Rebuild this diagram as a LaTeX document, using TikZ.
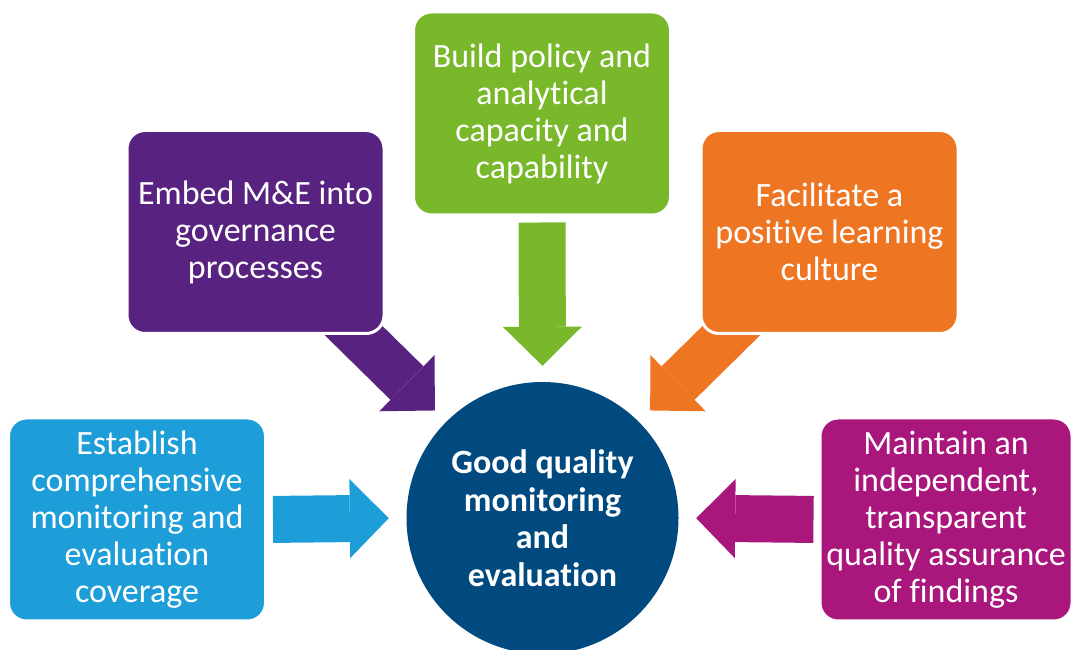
\documentclass[tikz,border=0pt]{standalone}
\usepackage{fontspec}
\setmainfont[Ligatures=NoCommon]{Carlito}
\usetikzlibrary{arrows.meta,backgrounds}

\definecolor{embpurple}{HTML}{582380}
\definecolor{buildgreen}{HTML}{78B82A}
\definecolor{facorange}{HTML}{EE7623}
\definecolor{estblue}{HTML}{1E9ED9}
\definecolor{maintpink}{HTML}{A9177D}
\definecolor{gooddark}{HTML}{004A7F}

\tikzset{
  box/.style={rectangle, rounded corners=18pt, draw=white, line width=3pt,
    minimum width=257pt, minimum height=203pt, inner sep=0pt, text=white,
    align=center, font=\fontsize{34}{37}\selectfont},
  bigarrow/.style={line width=47pt, -{Triangle[length=39pt,width=79pt,line width=0pt]}}
}

\begin{document}
\begin{tikzpicture}[x=1pt,y=1pt]
\useasboundingbox (0,0) rectangle (1073,650);
% centre
\node[circle, fill=gooddark, minimum size=272pt, inner sep=0pt, text=white, align=center,
  font=\fontsize{34}{37.5}\selectfont\bfseries] (good) at (542.5,132)
  {Good quality\\monitoring\\and\\evaluation};
% boxes
\node[box, fill=embpurple] (emb) at (255.5,418) {Embed M\&E into\\governance\\processes};
\node[box, fill=buildgreen] (build) at (542,536.5) {Build policy and\\analytical\\capacity and\\capability};
\node[box, fill=facorange] (fac) at (829.5,418) {Facilitate a\\positive learning\\culture};
\node[box, fill=estblue] (est) at (137,130.5) {Establish\\comprehensive\\monitoring and\\evaluation\\coverage};
\node[box, fill=maintpink, minimum width=252pt] (maint) at (946,130.5) {Maintain an\\independent,\\transparent\\quality assurance\\of findings};
% arrows
\begin{scope}[on background layer]
\draw[bigarrow, embpurple, shorten >=16pt] ([shift={(-63pt,35pt)}]emb.south east) -- (good.135);
\draw[bigarrow, facorange, shorten >=16pt] ([shift={(63pt,35pt)}]fac.south west) -- (good.45);
\draw[bigarrow, buildgreen, shorten <=6pt, shorten >=16pt] (build.south) -- (good.north);
\draw[bigarrow, estblue, shorten <=6pt, shorten >=17.5pt] (est.east) -- (good.west);
\draw[bigarrow, maintpink, shorten <=5pt, shorten >=17.5pt] (maint.west) -- (good.east);
\end{scope}
\end{tikzpicture}
\end{document}
